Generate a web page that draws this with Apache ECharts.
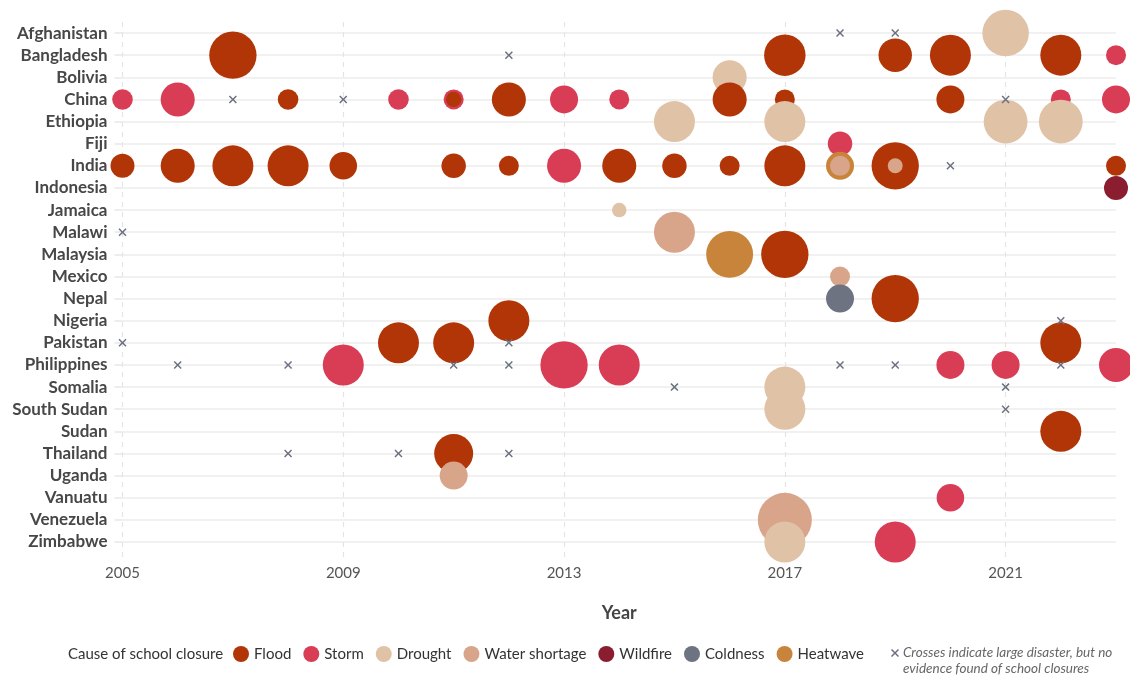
<!DOCTYPE html>
<html>
<head>
<meta charset="utf-8">
<script src="https://cdn.jsdelivr.net/npm/echarts@6.0.0/dist/echarts.min.js"></script>
<style>
html,body{margin:0;padding:0;background:#fff;}
#chart{width:1130px;height:675px;}
</style>
</head>
<body>
<div id="chart"></div>
<script>
// ---- Data ----
const countries = ["Afghanistan","Bangladesh","Bolivia","China","Ethiopia","Fiji","India","Indonesia","Jamaica","Malawi","Malaysia","Mexico","Nepal","Nigeria","Pakistan","Philippines","Somalia","South Sudan","Sudan","Thailand","Uganda","Vanuatu","Venezuela","Zimbabwe"];
const yearTicks = [2005, 2009, 2013, 2017, 2021];

// [country, year, magnitude]
const flood = [
  ["Bangladesh",2007,5.6],["Bangladesh",2017,4.3],["Bangladesh",2019,2.8],["Bangladesh",2020,4.2],["Bangladesh",2022,4.2],
  ["China",2008,1.06],["China",2011,0.59],["China",2012,2.9],["China",2016,2.9],["China",2017,1.0],["China",2020,1.96],
  ["India",2005,1.44],["India",2006,2.9],["India",2007,4.2],["India",2008,4.2],["India",2009,1.9],["India",2011,1.5],["India",2012,1.0],
  ["India",2014,2.9],["India",2015,1.5],["India",2016,1.0],["India",2017,4.2],["India",2019,5.6],["India",2023,1.0],
  ["Malaysia",2017,5.6],["Nepal",2019,5.6],["Nigeria",2012,4.2],
  ["Pakistan",2010,4.2],["Pakistan",2011,4.2],["Pakistan",2022,4.2],
  ["Sudan",2022,4.2],["Thailand",2011,3.8]
];
const storm = [
  ["Bangladesh",2023,1.0],
  ["China",2005,1.06],["China",2006,2.9],["China",2010,1.06],["China",2011,1.0],["China",2013,1.96],["China",2014,1.0],["China",2022,1.0],["China",2023,1.96],
  ["Fiji",2018,1.5],["India",2013,2.9],
  ["Philippines",2009,4.2],["Philippines",2013,5.6],["Philippines",2014,4.2],["Philippines",2020,1.96],["Philippines",2021,1.96],["Philippines",2023,2.9],
  ["Vanuatu",2020,1.9],["Zimbabwe",2019,4.2]
];
const drought = [
  ["Afghanistan",2021,5.4],["Bolivia",2016,2.9],
  ["Ethiopia",2015,4.2],["Ethiopia",2017,4.2],["Ethiopia",2021,4.8],["Ethiopia",2022,4.8],
  ["Jamaica",2014,0.53],["Somalia",2017,4.2],["South Sudan",2017,4.2],["Zimbabwe",2017,4.2]
];
const waterShortage = [
  ["India",2018,1.0],["India",2019,0.56],["Malawi",2015,4.2],["Mexico",2018,1.0],["Uganda",2011,1.96],["Venezuela",2017,7.3]
];
const wildfire = [["Indonesia",2023,1.44]];
const coldness = [["Nepal",2018,1.96]];
const heatwave = [["India",2018,1.96],["Malaysia",2016,5.5]];

// [country, year] large disaster without evidence of school closures
const crosses = [
  ["Afghanistan",2018],["Afghanistan",2019],["Bangladesh",2012],
  ["China",2007],["China",2009],["China",2021],["India",2020],["Malawi",2005],["Nigeria",2022],
  ["Pakistan",2005],["Pakistan",2012],
  ["Philippines",2006],["Philippines",2008],["Philippines",2011],["Philippines",2012],["Philippines",2018],["Philippines",2019],["Philippines",2022],
  ["Somalia",2015],["Somalia",2021],["South Sudan",2021],
  ["Thailand",2008],["Thailand",2010],["Thailand",2012]
];

// ---- Styling ----
const causes = [
  {name:"Flood", color:"#b13507", data:flood},
  {name:"Storm", color:"#d93d55", data:storm},
  {name:"Drought", color:"#e0c2a6", data:drought},
  {name:"Water shortage", color:"#d8a58b", data:waterShortage},
  {name:"Wildfire", color:"#8a1e30", data:wildfire},
  {name:"Coldness", color:"#6d7380", data:coldness},
  {name:"Heatwave", color:"#c8843a", data:heatwave}
];
const FONT = "Lato, 'Noto Sans', sans-serif";
const CROSS_PATH = 'path://M0,1.3L1.3,0L5,3.7L8.7,0L10,1.3L6.3,5L10,8.7L8.7,10L5,6.3L1.3,10L0,8.7L3.7,5Z';

let bubbles = [];
causes.forEach(c => c.data.forEach(d => {
  bubbles.push({value:[d[1], countries.indexOf(d[0]), d[2]], itemStyle:{color:c.color}});
}));
bubbles.sort((a,b) => (a.value[1]-b.value[1]) || (b.value[2]-a.value[2]));

const crossData = crosses.map(d => [d[1], countries.indexOf(d[0])]);
const rowValues = countries.map((c,i) => i);

// legend cross polygon (8px)
const cx0 = 891, cy0 = 649, s = 0.8;
const crossPts = [[0,1.3],[1.3,0],[5,3.7],[8.7,0],[10,1.3],[6.3,5],[10,8.7],[8.7,10],[5,6.3],[1.3,10],[0,8.7],[3.7,5]].map(p=>[cx0+p[0]*s, cy0+p[1]*s]);

const chart = echarts.init(document.getElementById('chart'), null, {renderer:'canvas'});
const series = [
  {
    type:'scatter', name:'bubbles', data:bubbles, clip:false,
    symbolSize: v => 2*10*Math.sqrt(v[2]),
    itemStyle:{opacity:1},
    emphasis:{disabled:true}
  },
  {
    type:'scatter', name:'crosses', data:crossData, clip:false,
    symbol:CROSS_PATH, symbolSize:8, itemStyle:{color:'#6b7080', opacity:1}, emphasis:{disabled:true}
  }
];
causes.forEach(c => series.push({type:'scatter', name:c.name, data:[], itemStyle:{color:c.color, opacity:1}}));

chart.setOption({
  animation:false,
  backgroundColor:'#fff',
  textStyle:{fontFamily:FONT},
  grid:{left:122.5, right:14, top:22, bottom:114, containLabel:false},
  xAxis:{
    type:'value', min:2005, max:2023,
    name:'Year', nameLocation:'middle', nameGap:43,
    nameTextStyle:{fontFamily:FONT, fontSize:18, fontWeight:'bold', color:'#444'},
    axisLine:{show:false},
    axisTick:{show:false, customValues:yearTicks},
    axisLabel:{customValues:yearTicks, fontFamily:FONT, fontSize:15, color:'#555', margin:5, formatter:v=>String(v)},
    splitLine:{show:true, lineStyle:{color:'#e4e4e4', width:1.2, type:[5,5]}}
  },
  yAxis:{
    type:'value', inverse:true, min:-0.5, max:23.86,
    axisLine:{show:false},
    axisTick:{show:true, length:8, customValues:rowValues, lineStyle:{color:'#e8e8e8', width:1.5}},
    axisLabel:{customValues:rowValues, formatter:v=>countries[Math.round(v)]||'', fontFamily:FONT, fontSize:17, fontWeight:'bold', color:'#474747', margin:15},
    splitLine:{show:true, lineStyle:{color:'#ececec', width:1.5}}
  },
  legend:{
    data:causes.map(c=>c.name),
    left:233, top:646, padding:0, itemWidth:16, itemHeight:16, itemGap:12, icon:'circle',
    textStyle:{fontFamily:FONT, fontSize:15, color:'#333'},
    selectedMode:false
  },
  graphic:[
    {type:'text', left:68, top:647, style:{text:'Cause of school closure', font:'15px '+FONT, fill:'#333'}},
    {type:'polygon', shape:{points:crossPts}, style:{fill:'#6b7080'}},
    {type:'text', left:903, top:645, style:{text:'Crosses indicate large disaster, but no\nevidence found of school closures', font:'italic 13.5px '+FONT, fill:'#666', lineHeight:16}}
  ],
  series:series
});
</script>
</body>
</html>
